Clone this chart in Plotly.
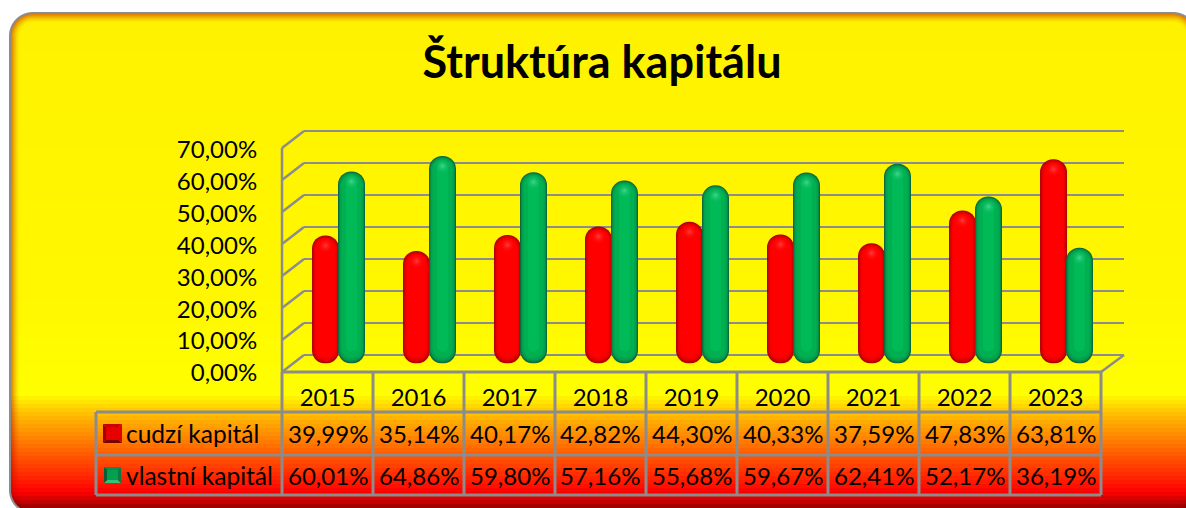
import base64, struct, zlib
import numpy as np
import plotly.graph_objects as go

W, H = 1186, 508
title = "Štruktúra kapitálu"
years = ["2015", "2016", "2017", "2018", "2019", "2020", "2021", "2022", "2023"]
series_names = ["cudzí kapitál", "vlastní kapitál"]
cudzi = [39.99, 35.14, 40.17, 42.82, 44.30, 40.33, 37.59, 47.83, 63.81]
vlastny = [60.01, 64.86, 59.80, 57.16, 55.68, 59.67, 62.41, 52.17, 36.19]
y_ticks = [0, 10, 20, 30, 40, 50, 60, 70]

FONT = "Lato"
GRID = "#8c8c8c"


def fmt(v):
    return f"{v:.2f}".replace(".", ",") + "%"


def px(x):
    return x / W


def py(y):
    return 1 - y / H


def png_background():
    yy, xx = np.mgrid[0:H, 0:W].astype(float)
    yy += 0.5
    xx += 0.5
    x0, y0, x1, y1, r = 9, 12, 1197, 514, 24
    qx = np.abs(xx - (x0 + x1) / 2) - ((x1 - x0) / 2 - r)
    qy = np.abs(yy - (y0 + y1) / 2) - ((y1 - y0) / 2 - r)
    d = r - np.hypot(np.maximum(qx, 0), np.maximum(qy, 0)) - np.minimum(np.maximum(qx, qy), 0)
    stops = [0, 300, 392, 412, 433, 453, 470, 490, 497, 508]
    reds = [255, 255, 255, 255, 255, 255, 255, 255, 215, 140]
    greens = [242, 248, 255, 190, 140, 90, 50, 0, 0, 0]
    bands = np.where(yy > 385, np.floor(yy / 4) * 4, yy)
    rgb = np.stack([np.interp(bands, stops, reds), np.interp(bands, stops, greens), np.zeros_like(yy)], -1)
    s = np.clip(1 - (d - 2) / 9, 0, 1) ** 1.5
    for i, m in enumerate((0.87, 0.5, 0)):
        rgb[..., i] *= 1 - s * (1 - m)
    b = np.clip(d - 1.5, 0, 1)[..., None]
    rgb = rgb * b + np.array([140, 140, 140]) * (1 - b)
    a = np.clip(d + 0.5, 0, 1)[..., None] * 255
    img = np.concatenate([rgb, a], -1).astype(np.uint8)
    raw = b"".join(b"\x00" + row.tobytes() for row in img)

    def chunk(t, c):
        return struct.pack(">I", len(c)) + t + c + struct.pack(">I", zlib.crc32(t + c))

    data = (b"\x89PNG\r\n\x1a\n" + chunk(b"IHDR", struct.pack(">IIBBBBB", W, H, 8, 6, 0, 0, 0))
            + chunk(b"IDAT", zlib.compress(raw, 9)) + chunk(b"IEND", b""))
    return "data:image/png;base64," + base64.b64encode(data).decode()


fig = go.Figure()

# plane geometry in pixels: (left, right, y at 70 %, y at 0 %)
BACK = (304, 1124, 131, 355)
FRONT = (282, 1101, 148, 372)
LABELS = (282, 1101, 149.5, 373)
MID = (293, 1112, 139.5, 363.5)


def dom_x(p):
    return [px(p[0]), px(p[1])]


def dom_y(p):
    return [py(p[3]), py(p[2])]


# the wall axis runs 7 units past both ends so that its first and last gridlines are kept
GRID_PAD = 7
back_unit = (BACK[3] - BACK[2]) / 70
BACK_PAD = (BACK[0], BACK[1], BACK[2] - GRID_PAD * back_unit, BACK[3] + GRID_PAD * back_unit)

UNIT_X = (MID[1] - MID[0]) / 9      # px per category
UNIT_Y = (MID[3] - MID[2]) / 70     # px per percent
BAR_W = 27
CENTERS = (-13, 13)

LAYERS = [
    [(0, "#b30000"), (1, "#d00000"), (2, "#e60000"), (3, "#f60000"), (4.5, "#ff0000")],
    [(0, "#0a6b3b"), (1, "#078a48"), (2, "#03a04f"), (3.5, "#00b050"), (8, "#00ba58")],
]
HIGHLIGHT = ["#ff3a3a", "#3fd68c"]
FADE = ["rgba(255,0,0,0)", "rgba(0,186,88,0)"]

# invisible anchors so that the wall and front-plane axes are drawn
fig.add_scatter(x=[0], y=[0], mode="markers", marker=dict(opacity=0), xaxis="x", yaxis="y", hoverinfo="skip")
fig.add_scatter(x=[0], y=[0], mode="markers", marker=dict(opacity=0), xaxis="x2", yaxis="y2", hoverinfo="skip")

for k, values in enumerate((cudzi, vlastny)):
    for inset, color in LAYERS[k]:
        w = (BAR_W - 2 * inset) / UNIT_X
        off = CENTERS[k] / UNIT_X - w / 2
        rad = (BAR_W - 2 * inset) / 2
        d = inset / UNIT_Y
        base = d * 1.5 + 0.01
        fig.add_bar(x=years, y=[v - d - base for v in values], base=[base] * len(values),
                    width=w, offset=off, marker=dict(color=color, line_width=0, cornerradius=rad),
                    xaxis="x3", yaxis="y3", hoverinfo="skip")
    fig.add_scatter(x=[i + CENTERS[k] / UNIT_X for i in range(len(years))],
                    y=[v - 10 / UNIT_Y for v in values], mode="markers",
                    marker=dict(size=16, color=FADE[k], line_width=0,
                                gradient=dict(type="radial", color=HIGHLIGHT[k])),
                    xaxis="x4", yaxis="y3", hoverinfo="skip")

shapes = []


def line(xa, ya, xb, yb, width=2.5):
    shapes.append(dict(type="line", xref="paper", yref="paper", x0=px(xa), y0=py(ya), x1=px(xb), y1=py(yb),
                       line=dict(color=GRID, width=width), layer="below"))


# side wall and floor diagonals
for t in y_ticks:
    yf = FRONT[3] - (FRONT[3] - FRONT[2]) * t / 70
    yb = BACK[3] - (BACK[3] - BACK[2]) * t / 70
    line(FRONT[0], yf, BACK[0], yb)
line(FRONT[1], FRONT[3], BACK[1], BACK[3])

# table grid
COLS = [FRONT[0] + i * (FRONT[1] - FRONT[0]) / len(years) for i in range(len(years) + 1)]
TABLE_L, T_TOP, T_MID, T_BOT = 96, 412, 455, 495
for c in COLS:
    line(c, FRONT[3], c, T_BOT, 3)
line(TABLE_L, T_TOP, TABLE_L, T_BOT, 3)
for yy_ in (T_TOP, T_MID, T_BOT):
    line(TABLE_L, yy_, FRONT[1], yy_, 3)
line(FRONT[0], FRONT[3], FRONT[1], FRONT[3], 3)
line(FRONT[0], FRONT[2], FRONT[0], FRONT[3], 2.5)


# legend keys
def key(x0, y0, x1, y1, top, left, right, bottom, centre):
    cx, cy = (x0 + x1) / 2, (y0 + y1) / 2

    def P(x, y):
        return f"{px(x)},{py(y)}"
    tri = [
        (top, [(x0, y0), (x1, y0), (cx, cy)]),
        (bottom, [(x0, y1), (x1, y1), (cx, cy)]),
        (left, [(x0, y0), (x0, y1), (cx, cy)]),
        (right, [(x1, y0), (x1, y1), (cx, cy)]),
    ]
    for col, pts in tri:
        path = "M " + " L ".join(P(*p) for p in pts) + " Z"
        shapes.append(dict(type="path", xref="paper", yref="paper", path=path, fillcolor=col,
                           line_width=0, layer="above"))
    shapes.append(dict(type="rect", xref="paper", yref="paper", x0=px(x0 + 3), x1=px(x1 - 3),
                       y0=py(y1 - 3), y1=py(y0 + 3), fillcolor=centre, line_width=0, layer="above"))


key(103, 424, 122, 443, "#cc0000", "#a00000", "#e00000", "#7a0000", "#e80000")
key(104, 467, 121, 483, "#0c8c4c", "#06603a", "#0a7a45", "#2fc47a", "#04a050")

ann = []
TEXT_SIZE = 24
for i, y_ in enumerate(years):
    cx = (COLS[i] + COLS[i + 1]) / 2
    for v, yc in ((cudzi[i], 433), (vlastny[i], 475)):
        ann.append(dict(x=px(cx), y=py(yc), xref="paper", yref="paper", text=fmt(v), showarrow=False,
                        font=dict(family=FONT, size=TEXT_SIZE, color="black"),
                        xanchor="center", yanchor="middle"))
for name, yc in zip(series_names, (433, 475)):
    ann.append(dict(x=px(126), y=py(yc), xref="paper", yref="paper", text=name, showarrow=False,
                    font=dict(family=FONT, size=24.5, color="black"),
                    xanchor="left", yanchor="middle", xshift=-2))

fig.update_layout(
    width=W, height=H, autosize=False,
    margin=dict(l=0, r=0, t=0, b=0, autoexpand=False),
    paper_bgcolor="rgba(0,0,0,0)", plot_bgcolor="rgba(0,0,0,0)",
    showlegend=False, hovermode=False, barmode="overlay", separators=", ",
    font=dict(family=FONT, color="black"),
    title=dict(text=f"<b>{title}</b>", x=602 / W, y=py(62), xanchor="center", yanchor="middle",
               font=dict(family=FONT, size=45, color="black")),
    images=[dict(source=png_background(), xref="paper", yref="paper", x=0, y=1, sizex=1, sizey=1,
                 xanchor="left", yanchor="top", sizing="stretch", layer="below")],
    # back wall: gridlines
    xaxis=dict(domain=dom_x(BACK_PAD), range=[0, 1], visible=True, showgrid=False, showticklabels=False,
               zeroline=False, ticks="", showline=False, anchor="y"),
    yaxis=dict(domain=dom_y(BACK_PAD), range=[-GRID_PAD, 70 + GRID_PAD], tickvals=y_ticks, showgrid=True,
               gridcolor=GRID, gridwidth=2.5, showticklabels=False, zeroline=False, ticks="", showline=False,
               anchor="x"),
    # front plane: tick labels
    xaxis2=dict(domain=dom_x(LABELS), range=[-0.5, 8.5], tickvals=list(range(len(years))), ticktext=years,
                ticks="outside", ticklen=3, tickcolor="rgba(0,0,0,0)", showgrid=False, zeroline=False,
                tickfont=dict(family=FONT, size=TEXT_SIZE, color="black"), anchor="y2"),
    yaxis2=dict(domain=dom_y(LABELS), range=[0, 70], tickvals=y_ticks, ticktext=[fmt(t) for t in y_ticks],
                ticks="outside", ticklen=19, tickcolor="rgba(0,0,0,0)", showgrid=False, zeroline=False,
                tickfont=dict(family=FONT, size=TEXT_SIZE, color="black"), anchor="x2"),
    # mid plane: columns
    xaxis3=dict(domain=dom_x(MID), type="category", categoryorder="array", categoryarray=years,
                range=[-0.5, 8.5], showgrid=False, showticklabels=False, zeroline=False, ticks="", anchor="y3"),
    yaxis3=dict(domain=dom_y(MID), range=[0, 70], showgrid=False, showticklabels=False, zeroline=False, ticks="",
                anchor="x3"),
    xaxis4=dict(domain=dom_x(MID), range=[-0.5, 8.5], overlaying="x3", showgrid=False, showticklabels=False,
                zeroline=False, ticks="", anchor="y3"),
    shapes=shapes, annotations=ann,
)

fig.write_html("out.html", config=dict(displayModeBar=False, staticPlot=True),
               post_script="document.body.style.margin='0';document.body.style.overflow='hidden';")
